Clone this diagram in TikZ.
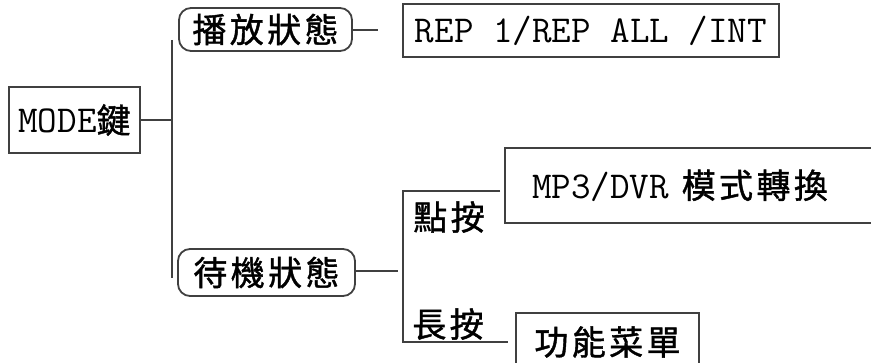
\documentclass[tikz,border=0pt]{standalone}
\usepackage{fontspec}
\newfontfamily\cjk{Noto Sans CJK TC}[FakeBold=1.2,LetterSpace=10]
\newcommand{\zh}[1]{{\cjk\fontsize{34}{36}\selectfont #1}}
\usetikzlibrary{calc}

\begin{document}
\begin{tikzpicture}[x=1pt,y=-1pt]
		\tikzstyle{keybox} = [draw=black!75,line width=1.8pt,inner sep=0pt,font=\fontsize{38}{40}\selectfont\ttfamily]
		\tikzstyle{state} = [keybox,rounded corners=12pt]
		\tikzstyle{press} = [inner sep=0pt]
		\tikzstyle{myline} = [draw=black!75,line width=1.8pt]

		\useasboundingbox (0,0) rectangle (871,363);
		\clip (0,0) rectangle (871,363);

		% Nodes
		\node [keybox, minimum width=131, minimum height=66] (mode) at (74.5,120) {MODE\zh{鍵}};
		\node [state, minimum width=173, minimum height=43] (play) at (265.5,29.5) {\zh{播放狀態}};
		\node [keybox, minimum width=376, minimum height=53] (rep) at (591,30.5) {REP 1/REP ALL /INT};
		\node [state, minimum width=177, minimum height=47] (standby) at (266.5,272.5) {\zh{待機狀態}};
		\node [keybox, text width=341, inner xsep=27pt, align=left, minimum height=75] (mp3) at (702.5,185.5) {MP3/DVR \zh{模式轉換}};
		\node [keybox, minimum width=183, minimum height=58] (menu) at (607.5,342) {\zh{功能菜單}};
		\node [press] (tap) at (449,217) {\zh{點按}};
		\node [press] (hold) at (448,324) {\zh{長按}};

		% Free ends of the connectors
		\coordinate (trunkTop) at (172,40);
		\coordinate (trunkBot) at (172,278);
		\coordinate (playEnd) at (378,30);
		\coordinate (standbyEnd) at (398,271);
		\coordinate (tapEnd) at (500,191);
		\coordinate (holdEnd) at (508,342);
		\coordinate (fork) at (403,191);

		\draw [myline] (mode.east) -- (mode.east -| trunkTop);
		\draw [myline] (trunkTop) -- (trunkBot);
		\draw [myline] (play.east |- playEnd) -- (playEnd);
		\draw [myline] (standby.east |- standbyEnd) -- (standbyEnd);
		\draw [myline] (tapEnd) -- (fork) |- (holdEnd);
	\end{tikzpicture}
\end{document}
